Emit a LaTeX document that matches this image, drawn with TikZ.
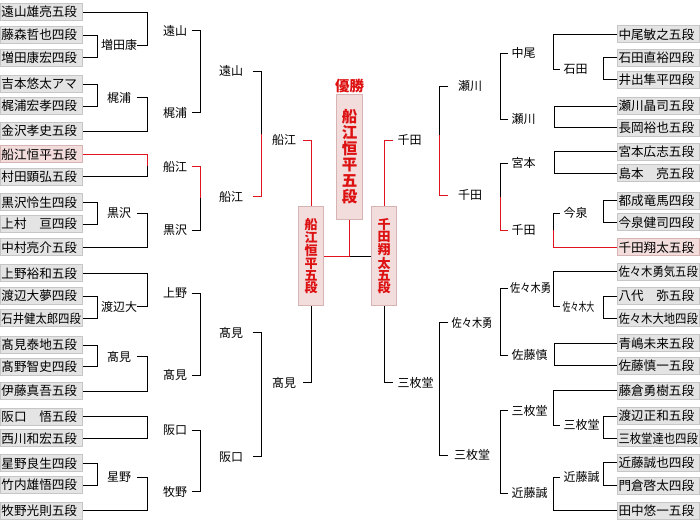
\documentclass[tikz,border=0pt]{standalone}
\usepackage{fontspec}
\setmainfont{Noto Sans CJK JP}
\usepackage{graphicx}
\definecolor{winred}{HTML}{E0141E}
\definecolor{txtred}{HTML}{DD1111}
\definecolor{pboxfill}{HTML}{E4E4E4}
\definecolor{pboxline}{HTML}{C6C6C6}
\definecolor{wboxfill}{HTML}{F2DCDC}
\definecolor{wboxline}{HTML}{D6B4B4}
\tikzset{
  pbox/.style={draw=pboxline, fill=pboxfill, line width=1pt, text width=80pt, align=left,
     minimum height=17pt, inner xsep=1pt, inner ysep=0pt, font=\fontsize{12.6}{14}\selectfont},
  wbox/.style={pbox, draw=wboxline, fill=wboxfill},
  lab/.style={inner sep=0.5pt, font=\fontsize{12}{14}\selectfont},
  conn/.style={line width=1pt, black},
  win/.style={line width=1pt, winred},
  vbox/.style={draw=wboxline, fill=wboxfill, line width=1pt, text=txtred, align=center, inner sep=0pt},
}
\newcommand{\sq}[1]{\scalebox{0.9}[1]{#1}}
\begin{document}
\begin{tikzpicture}[x=1pt,y=-1pt]
\useasboundingbox (0,0) rectangle (700,520);
% ---------------- left players
\node[pbox,anchor=west] (L0) at (0,12) {遠山雄亮五段};
\node[pbox,anchor=west] (L1) at (0,35) {藤森哲也四段};
\node[pbox,anchor=west] (L2) at (0,57.5) {増田康宏四段};
\node[pbox,anchor=west] (L3) at (0,84) {吉本悠太アマ};
\node[pbox,anchor=west] (L4) at (0,106) {梶浦宏孝四段};
\node[pbox,anchor=west] (L5) at (0,131) {金沢孝史五段};
\node[wbox,anchor=west] (L6) at (0,154.3) {船江恒平五段};
\node[pbox,anchor=west] (L7) at (0,176.7) {村田顕弘五段};
\node[pbox,anchor=west] (L8) at (0,202.3) {黒沢怜生四段};
\node[pbox,anchor=west] (L9) at (0,224) {上村　亘四段};
\node[pbox,anchor=west] (L10) at (0,247.3) {中村亮介五段};
\node[pbox,anchor=west] (L11) at (0,273.3) {上野裕和五段};
\node[pbox,anchor=west] (L12) at (0,296) {渡辺大夢四段};
\node[pbox,anchor=west] (L13) at (0,318.3) {\sq{石井健太郎四段}};
\node[pbox,anchor=west] (L14) at (0,345) {髙見泰地五段};
\node[pbox,anchor=west] (L15) at (0,366.7) {髙野智史四段};
\node[pbox,anchor=west] (L16) at (0,391) {伊藤真吾五段};
\node[pbox,anchor=west] (L17) at (0,416.7) {阪口　悟五段};
\node[pbox,anchor=west] (L18) at (0,438.3) {西川和宏五段};
\node[pbox,anchor=west] (L19) at (0,463.3) {星野良生四段};
\node[pbox,anchor=west] (L20) at (0,485) {竹内雄悟四段};
\node[pbox,anchor=west] (L21) at (0,510.5) {牧野光則五段};
% ---------------- right players
\node[pbox,anchor=east] (R1) at (700,34.3) {中尾敏之五段};
\node[pbox,anchor=east] (R2) at (700,57.7) {石田直裕四段};
\node[pbox,anchor=east] (R3) at (700,79.5) {井出隼平四段};
\node[pbox,anchor=east] (R4) at (700,106) {瀬川晶司五段};
\node[pbox,anchor=east] (R5) at (700,127.7) {長岡裕也五段};
\node[pbox,anchor=east] (R6) at (700,151.7) {宮本広志五段};
\node[pbox,anchor=east] (R7) at (700,173.3) {島本　亮五段};
\node[pbox,anchor=east] (R8) at (700,200.7) {都成竜馬四段};
\node[pbox,anchor=east] (R9) at (700,222.3) {今泉健司四段};
\node[wbox,anchor=east] (R10) at (700,247.3) {千田翔太五段};
\node[pbox,anchor=east] (R11) at (700,271.7) {\sq{佐々木勇気五段}};
\node[pbox,anchor=east] (R12) at (700,296) {八代　弥五段};
\node[pbox,anchor=east] (R13) at (700,318.3) {\sq{佐々木大地四段}};
\node[pbox,anchor=east] (R14) at (700,343.3) {青嶋未来五段};
\node[pbox,anchor=east] (R15) at (700,365.5) {佐藤慎一五段};
\node[pbox,anchor=east] (R16) at (700,390.7) {藤倉勇樹五段};
\node[pbox,anchor=east] (R17) at (700,416) {渡辺正和五段};
\node[pbox,anchor=east] (R18) at (700,438.3) {\sq{三枚堂達也四段}};
\node[pbox,anchor=east] (R19) at (700,462.7) {近藤誠也四段};
\node[pbox,anchor=east] (R20) at (700,485.7) {門倉啓太四段};
\node[pbox,anchor=east] (R21) at (700,510.5) {田中悠一五段};
% ---------------- left labels
\node[lab] (a1) at (119,45) {増田康};
\node[lab] (a2) at (119,97.7) {梶浦};
\node[lab] (a3) at (119,213.3) {黒沢};
\node[lab] (a4) at (119,306.7) {渡辺大};
\node[lab] (a5) at (119,356.7) {髙見};
\node[lab] (a6) at (119,477.3) {星野};
\node[lab] (b1) at (175,30.7) {遠山};
\node[lab] (b2) at (175,112.7) {梶浦};
\node[lab] (b3) at (175,166.7) {船江};
\node[lab] (b4) at (175,230) {黒沢};
\node[lab] (b5) at (175,293.3) {上野};
\node[lab] (b6) at (175,375) {髙見};
\node[lab] (b7) at (175,430) {阪口};
\node[lab] (b8) at (175,491.7) {牧野};
\node[lab] (c1) at (231,71) {遠山};
\node[lab] (c2) at (231,196.7) {船江};
\node[lab] (c3) at (231,332.7) {髙見};
\node[lab] (c4) at (231,456.7) {阪口};
\node[lab] (d1) at (284,140) {船江};
\node[lab] (d2) at (284,382.7) {髙見};
% ---------------- right labels
\node[lab,anchor=west] (f1) at (563,69) {石田};
\node[lab,anchor=west] (f2) at (563,213.3) {今泉};
\node[lab,anchor=west] (f3) at (562,306.7) {\scalebox{0.66}[1]{佐々木大}};
\node[lab,anchor=west] (f4) at (563,425) {三枚堂};
\node[lab,anchor=west] (f5) at (563,477.3) {近藤誠};
\node[lab,anchor=west] (g1) at (511,53) {中尾};
\node[lab,anchor=west] (g2) at (511,119) {瀬川};
\node[lab,anchor=west] (g3) at (511,163.3) {宮本};
\node[lab,anchor=west] (g4) at (511,230) {千田};
\node[lab,anchor=west] (g5) at (509.5,288.3) {\scalebox{0.85}[1]{佐々木勇}};
\node[lab,anchor=west] (g6) at (511,355) {佐藤慎};
\node[lab,anchor=west] (g7) at (511,410.7) {三枚堂};
\node[lab,anchor=west] (g8) at (511,493.3) {近藤誠};
\node[lab] (h1) at (470,86) {瀬川};
\node[lab] (h2) at (470,195) {千田};
\node[lab] (h3) at (472,322.7) {\scalebox{0.85}[1]{佐々木勇}};
\node[lab] (h4) at (472,455) {三枚堂};
\node[lab,anchor=west] (e1) at (397,140) {千田};
\node[lab,anchor=west] (e2) at (397,382.7) {三枚堂};
% ---------------- centre boxes
\node[vbox, minimum width=24.4pt, minimum height=99pt, font=\fontsize{13}{12.2}\selectfont\bfseries] (S1) at (311,256) {船\\江\\恒\\平\\五\\段};
\node[vbox, minimum width=24.6pt, minimum height=99pt, font=\fontsize{13}{12.2}\selectfont\bfseries] (S2) at (384,256) {千\\田\\翔\\太\\五\\段};
\node[vbox, minimum width=26.7pt, minimum height=125pt, font=\fontsize{15.5}{16}\selectfont\bfseries] (C) at (349.5,156.8) {船\\江\\恒\\平\\五\\段};
\node[text=txtred, font=\fontsize{14.5}{16}\selectfont\bfseries, inner sep=0pt] (Y) at (349.5,86) {優勝};
% ---------------- left connectors, round 1
\draw[conn] (L1.east) -| (97,0 |- L2) -- (L2.east);
\draw[conn] (L0.east) -| (147,0 |- a1) -- (137,0 |- a1);
\draw[conn] (L3.east) -| (97,0 |- L4) -- (L4.east);
\draw[conn] (137,0 |- a2) -- (147,0 |- a2) |- (L5.east);
\draw[win] (L6.east) -| (147,165.5);
\draw[conn] (147,165.5) |- (L7.east);
\draw[conn] (L8.east) -| (97,0 |- L9) -- (L9.east);
\draw[conn] (137,0 |- a3) -- (147,0 |- a3) |- (L10.east);
\draw[conn] (L11.east) -| (147,0 |- a4) -- (137,0 |- a4);
\draw[conn] (L12.east) -| (97,0 |- L13) -- (L13.east);
\draw[conn] (L14.east) -| (97,0 |- L15) -- (L15.east);
\draw[conn] (137,0 |- a5) -- (147,0 |- a5) |- (L16.east);
\draw[conn] (L17.east) -| (147,0 |- L18) -- (L18.east);
\draw[conn] (L19.east) -| (97,0 |- L20) -- (L20.east);
\draw[conn] (137,0 |- a6) -- (147,0 |- a6) |- (L21.east);
% left round 2
\draw[conn] (191.5,0 |- b1) -| (200,0 |- b2) -- (191.5,0 |- b2);
\draw[win] (191.5,0 |- b3) -| (200,198.3);
\draw[conn] (200,198.3) |- (191.5,0 |- b4);
\draw[conn] (191.5,0 |- b5) -| (200,0 |- b6) -- (191.5,0 |- b6);
\draw[conn] (191.5,0 |- b7) -| (200,0 |- b8) -- (191.5,0 |- b8);
% left round 3
\draw[conn] (252.5,0 |- c1) -| (261.5,134);
\draw[win] (261.5,134) |- (252.5,0 |- c2);
\draw[conn] (252.5,0 |- c3) -| (261.5,0 |- c4) -- (252.5,0 |- c4);
% left semifinal
\draw[win] (303,0 |- d1) -| (S1.north);
\draw[conn] (303,0 |- d2) -| (S1.south);
% ---------------- right connectors, round 1
\draw[conn] (R2.west) -| (603.3,0 |- R3) -- (R3.west);
\draw[conn] (R1.west) -| (553.5,0 |- f1) -- (560,0 |- f1);
\draw[conn] (R4.west) -| (554.5,0 |- R5) -- (R5.west);
\draw[conn] (R6.west) -| (554.5,0 |- R7) -- (R7.west);
\draw[conn] (R8.west) -| (603.3,0 |- R9) -- (R9.west);
\draw[conn] (560,0 |- f2) -| (553.5,230.3);
\draw[win] (553.5,230.3) |- (R10.west);
\draw[conn] (R12.west) -| (603.3,0 |- R13) -- (R13.west);
\draw[conn] (R11.west) -| (553.5,0 |- f3) -- (560,0 |- f3);
\draw[conn] (R14.west) -| (554.5,0 |- R15) -- (R15.west);
\draw[conn] (R17.west) -| (603.3,0 |- R18) -- (R18.west);
\draw[conn] (R16.west) -| (553.5,0 |- f4) -- (560,0 |- f4);
\draw[conn] (R19.west) -| (603.3,0 |- R20) -- (R20.west);
\draw[conn] (560,0 |- f5) -| (553.5,0 |- R21) -- (R21.west);
% right round 2
\draw[conn] (508,0 |- g1) -| (500.7,0 |- g2) -- (508,0 |- g2);
\draw[conn] (508,0 |- g3) -| (500.7,196.7);
\draw[win] (500.7,196.7) |- (508,0 |- g4);
\draw[conn] (508,0 |- g5) -| (500.7,0 |- g6) -- (508,0 |- g6);
\draw[conn] (508,0 |- g7) -| (500.7,0 |- g8) -- (508,0 |- g8);
% right round 3
\draw[conn] (448.3,0 |- h1) -| (439.3,135);
\draw[win] (439.3,135) |- (448.3,0 |- h2);
\draw[conn] (448.3,0 |- h3) -| (439.3,0 |- h4) -- (448.3,0 |- h4);
% right semifinal
\draw[win] (393,0 |- e1) -| (S2.north);
\draw[conn] (393,0 |- e2) -| (S2.south);
% final
\draw[win] (C.south) |- (S1.east);
\draw[conn] (C.south |- S1.east) -- (S2.west);
\end{tikzpicture}
\end{document}
